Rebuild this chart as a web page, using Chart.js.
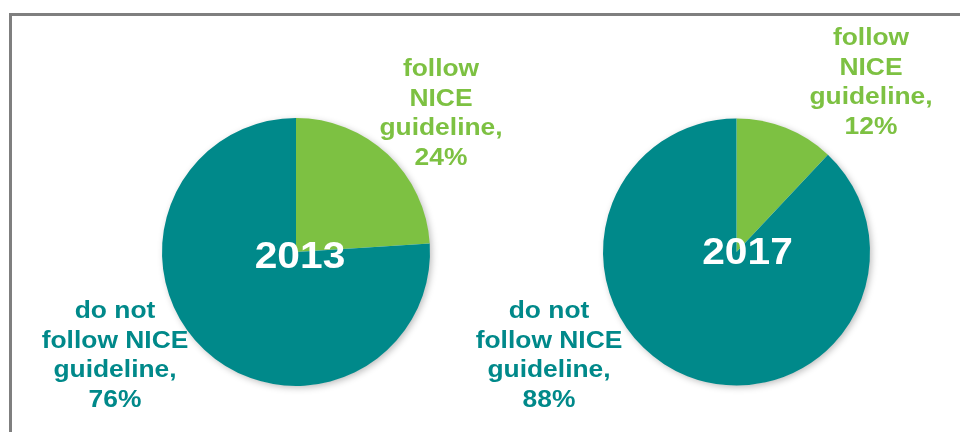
<!DOCTYPE html>
<html>
<head>
<meta charset="utf-8">
<script src="https://cdn.jsdelivr.net/npm/chart.js@4"></script>
<style>
  html, body { margin: 0; padding: 0; background: #fff; }
  #wrap { position: relative; width: 960px; height: 432px; overflow: hidden; }
  #frame { position: absolute; left: 9px; top: 13px; width: 1000px; height: 500px;
           border-top: 3px solid #7f7f7f; border-left: 3px solid #7f7f7f; }
  canvas { position: absolute; left: 0; top: 0; }
</style>
</head>
<body>
<div id="wrap">
  <div id="frame"></div>
  <canvas id="pie2013" width="960" height="432"></canvas>
  <canvas id="pie2017" width="960" height="432"></canvas>
</div>
<script>
// data
const categories = ['follow NICE guideline', 'do not follow NICE guideline'];
const years = ['2013', '2017'];
const share2013 = [24, 76];
const share2017 = [12, 88];
const followLines = ['follow', 'NICE', 'guideline,'];
const notFollowLines = ['do not', 'follow NICE', 'guideline,'];

const GREEN = '#7dc142';
const TEAL = '#00898a';
const FONT = '"Liberation Sans", Arial, sans-serif';
const STRETCH = 1.1; // the original lettering is a bit wider than Arial

function wideText(ctx, t, x, y) {
  ctx.save();
  ctx.translate(x, y);
  ctx.scale(STRETCH, 1);
  ctx.fillText(t, 0, 0);
  ctx.restore();
}

// draws the soft shadow under the pie, the year in the middle and the two labels
const pieDecor = {
  id: 'pieDecor',
  beforeDatasetsDraw(chart) {
    const arc = chart.getDatasetMeta(0).data[0];
    const ctx = chart.ctx;
    ctx.save();
    ctx.shadowColor = 'rgba(0,0,0,0.28)';
    ctx.shadowBlur = 7;
    ctx.shadowOffsetX = 2;
    ctx.shadowOffsetY = 2;
    ctx.fillStyle = '#fff';
    ctx.beginPath();
    ctx.arc(arc.x, arc.y, arc.outerRadius - 0.5, 0, Math.PI * 2);
    ctx.fill();
    ctx.restore();
  },
  afterDraw(chart, args, opts) {
    const arc = chart.getDatasetMeta(0).data[0];
    const values = chart.data.datasets[0].data;
    const ctx = chart.ctx;
    ctx.save();
    ctx.textAlign = 'center';
    ctx.textBaseline = 'alphabetic';

    ctx.fillStyle = '#fff';
    ctx.font = 'bold 37px ' + FONT;
    wideText(ctx, opts.year, arc.x + opts.yearDx, arc.y + opts.yearDy);

    ctx.font = 'bold 24px ' + FONT;
    const drawLabel = (lines, value, pos, color) => {
      ctx.fillStyle = color;
      const all = lines.concat([value + '%']);
      all.forEach((t, i) => wideText(ctx, t, pos[0], pos[1] + i * 29.6));
    };
    drawLabel(followLines, values[0], opts.followPos, GREEN);
    drawLabel(notFollowLines, values[1], opts.notPos, TEAL);
    ctx.restore();
  }
};

function makePie(id, values, year, padding, decor) {
  return new Chart(document.getElementById(id), {
    type: 'pie',
    data: {
      labels: categories,
      datasets: [{
        data: values,
        backgroundColor: [GREEN, TEAL],
        borderWidth: 0
      }]
    },
    options: {
      responsive: false,
      animation: false,
      layout: { padding: padding },
      plugins: {
        legend: { display: false },
        tooltip: { enabled: false },
        pieDecor: Object.assign({ year: year }, decor)
      }
    },
    plugins: [pieDecor]
  });
}

makePie('pie2013', share2013, years[0],
  { left: 162, right: 530, top: 118, bottom: 46 },
  { yearDx: 4, yearDy: 16, followPos: [441, 76], notPos: [115, 318] });

makePie('pie2017', share2017, years[1],
  { left: 603, right: 90, top: 118, bottom: 46 },
  { yearDx: 11, yearDy: 12, followPos: [871, 45], notPos: [549, 318] });
</script>
</body>
</html>
